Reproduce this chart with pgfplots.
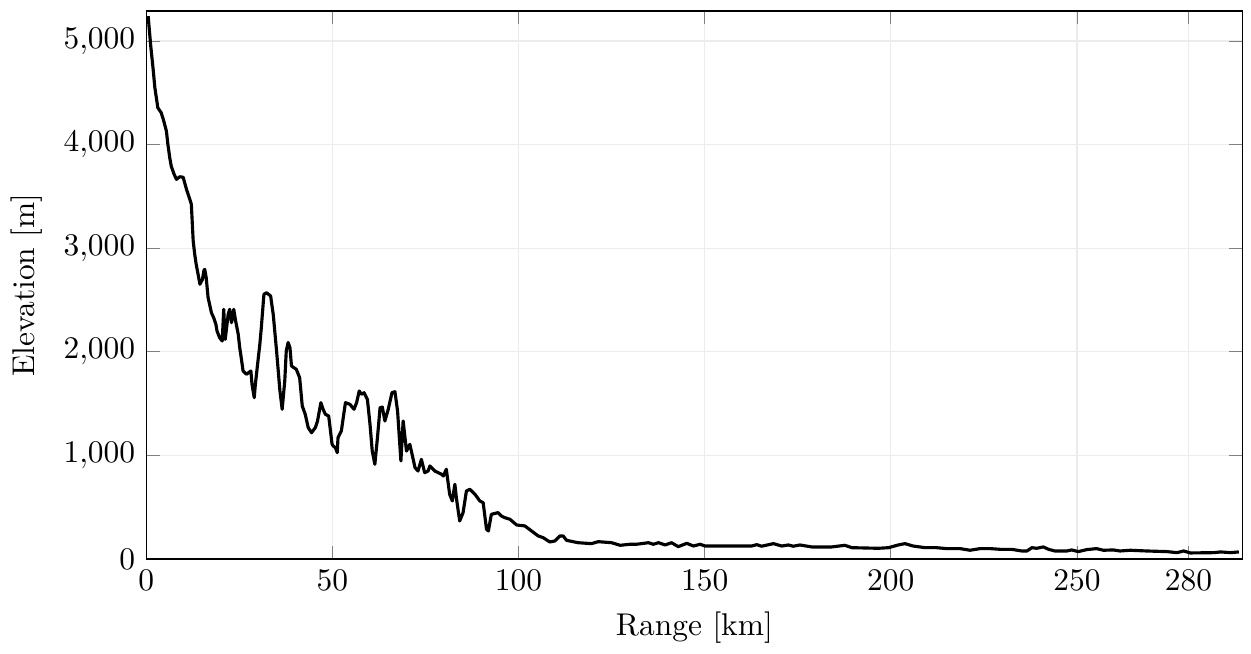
\documentclass[border=0pt]{standalone}
\usepackage{pgfplots}
\pgfplotsset{compat=1.18}
\begin{document}
\begin{tikzpicture}
\begin{axis}[
  scale only axis,
  width=348.5pt, height=174.2pt,
  xmin=0, xmax=294.5, ymin=0, ymax=5290,
  xtick={0,50,100,150,200,250,280},
  ytick={0,1000,2000,3000,4000,5000},
  grid=major,
  major grid style={gray!15, line width=0.4pt},
  xlabel={Range [km]},
  ylabel={Elevation [m]},
]
\addplot[black, line width=1pt, line join=round] table {
x y
0.5 5240
1.2 4950
1.8 4742
2.3 4550
3.1 4356
4.0 4308
4.6 4240
5.4 4131
5.8 4003
6.3 3874
6.7 3793
7.4 3720
8.1 3665
9.0 3690
9.9 3685
10.8 3569
11.7 3472
12.1 3424
12.6 3069
13.0 2944
13.4 2845
13.9 2751
14.4 2652
15.1 2700
15.5 2787
15.7 2796
16.1 2715
16.6 2522
17.0 2459
17.5 2377
18.1 2329
18.7 2265
19.0 2201
19.7 2136
20.4 2104
20.8 2410
21.2 2120
22.0 2362
22.4 2410
22.9 2281
23.5 2410
24.0 2297
24.7 2169
25.1 2040
25.5 1943
26.0 1815
26.9 1783
28.1 1815
28.4 1686
29.0 1557
29.3 1686
29.8 1847
30.5 2072
30.9 2233
31.6 2555
32.3 2570
33.4 2539
34.1 2362
35.0 2008
35.9 1622
36.5 1445
37.2 1718
37.6 2008
38.1 2090
38.6 2040
39.0 1863
40.3 1831
41.2 1750
41.9 1477
42.7 1397
43.5 1267
44.4 1219
45.4 1267
46.0 1332
46.9 1509
47.5 1445
48.1 1397
49.0 1380
49.9 1110
50.2 1091
50.8 1074
51.3 1026
51.5 1171
52.4 1236
53.5 1509
54.7 1493
55.8 1445
56.5 1509
57.2 1622
57.8 1590
58.5 1605
59.4 1541
60.1 1300
60.7 1042
61.4 914
62.1 1171
62.8 1460
63.4 1467
64.1 1332
65.0 1445
66.0 1605
66.8 1615
67.5 1429
68.4 946
69.0 1332
69.9 1042
70.8 1107
71.4 1011
72.2 881
73.0 849
73.9 962
74.8 833
75.7 849
76.2 898
77.5 849
79.3 818
79.8 801
80.6 866
81.5 624
82.2 560
82.9 721
83.3 592
83.8 463
84.2 367
85.1 447
86.0 656
86.9 673
88.3 624
89.6 560
90.5 543
91.4 287
91.9 270
92.7 431
94.5 447
95.4 415
96.3 399
97.7 383
99.5 328
101.7 319
103.5 270
105.3 222
106.6 206
108.4 164
109.8 174
111.1 222
112.0 222
112.9 180
116.0 157
119.6 148
121.4 167
125.0 157
127.3 132
130.0 142
131.7 142
134.9 157
136.2 142
137.6 157
139.4 135
141.1 157
142.9 119
145.2 151
147.0 125
148.8 142
150.1 125
157.3 125
162.6 125
164.0 138
165.3 123
168.5 148
170.7 125
172.5 135
173.8 123
175.6 135
178.8 116
184.1 116
187.7 132
189.5 109
196.7 103
199.4 109
202.0 135
203.8 148
206.0 125
209.2 109
212.3 109
215.0 100
218.6 100
221.3 84
224.0 100
226.7 100
229.4 93
232.5 93
235.2 77
236.6 77
237.9 109
239.2 103
241.0 116
242.4 93
244.1 77
247.3 77
248.6 87
250.4 71
252.6 90
255.3 100
257.1 84
259.8 87
261.6 77
264.3 84
268.8 77
274.2 71
276.9 61
278.7 77
280.5 58
286.8 61
288.6 68
291.3 61
293.5 68
};
\end{axis}
\path ([shift={(2.7pt,3.5pt)}]current axis.north east);
\end{tikzpicture}
\end{document}
